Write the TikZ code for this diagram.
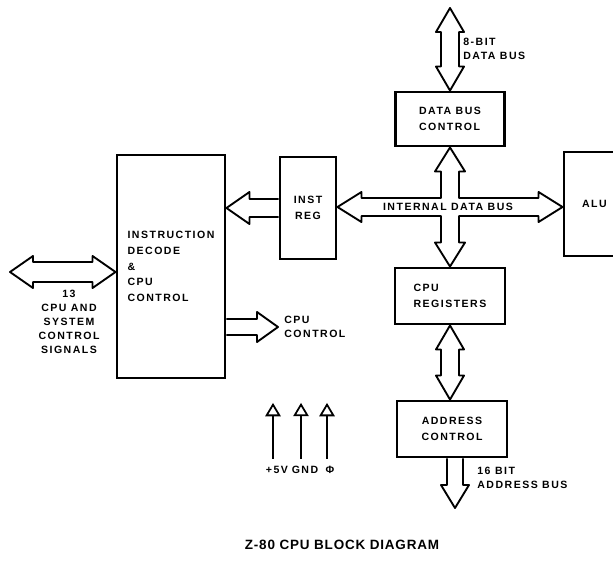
\documentclass[tikz,border=0pt]{standalone}
\usepackage{fontspec}
\newfontfamily\diagfont{Liberation Sans}[LetterSpace=14]
\newfontfamily\titlefont{Liberation Sans}[LetterSpace=6]
\usetikzlibrary{arrows.meta, positioning, calc}
\tikzstyle{block} = [rectangle, draw=black, line width=2.5pt, align=left, inner sep=0pt, font=\diagfont\bfseries\fontsize{9}{13.4}\selectfont]
\tikzstyle{bus} = [draw=black, line width=1.6pt, line join=round, fill=white]
\tikzstyle{tag} = [align=left, inner sep=1pt, font=\diagfont\bfseries\fontsize{9}{12.5}\selectfont]
\tikzstyle{power} = [line width=1.1pt, -{Triangle[open, length=0.40cm, width=0.46cm, line width=1.5pt]}]

% fat bus arrows
\newcommand{\busv}[2]{% top tip, bottom tip
  \draw[bus] (#1) -- ++(14,24) -- ++(-5,0) -- ($(#1 |- #2)+(9,-24)$) -- ++(5,0) -- (#1 |- #2)
    -- ++(-14,-24) -- ++(5,0) -- ($(#1)+(-9,24)$) -- ++(-5,0) -- cycle;}
\newcommand{\bush}[2]{% left tip, right tip
  \draw[bus] (#1) -- ++(23,-16) -- ++(0,6) -- ($(#1 -| #2)+(-23,-10)$) -- ++(0,-6) -- (#1 -| #2)
    -- ++(-23,16) -- ++(0,-6) -- ($(#1)+(23,10)$) -- ++(0,6) -- cycle;}
\newcommand{\busright}[2]{% tail, tip
  \draw[bus] ($(#1)+(0,-8)$) -- ($(#2)+(-21,-8)$) -- ++(0,-7) -- (#2) -- ++(-21,15) -- ++(0,-7) -- ($(#1)+(0,8)$);}
\newcommand{\busleft}[2]{% tail, tip
  \draw[bus] ($(#1)+(0,-9)$) -- ($(#2)+(23,-9)$) -- ++(0,-7) -- (#2) -- ++(23,16) -- ++(0,-7) -- ($(#1)+(0,9)$);}
\newcommand{\busdown}[2]{% tail, tip
  \draw[bus] ($(#1)+(-8,0)$) -- ($(#2)+(-8,-23)$) -- ++(-6,0) -- (#2) -- ++(14,-23) -- ++(-6,0) -- ($(#1)+(8,0)$);}

\begin{document}
\begin{tikzpicture}[x=0.03cm, y=-0.03cm]
    \useasboundingbox (0,0) rectangle (613,561);
    \clip (0,0) rectangle (613,561);

    % blocks
    \node (decode) [block, minimum width=3.24cm, minimum height=6.69cm] at (171,266.5) {INSTRUCTION\\DECODE\\\&\\CPU\\CONTROL};
    \node (ireg) [block, minimum width=1.68cm, minimum height=3.06cm, align=center] at (308,208) {INST\\REG};
    \node (dbc) [block, minimum width=3.27cm, minimum height=1.62cm] at (450,119) {DATA BUS\\CONTROL};
    \node (cpureg) [block, minimum width=3.3cm, minimum height=1.68cm] at (450,296) {CPU\\REGISTERS};
    \node (addr) [block, minimum width=3.3cm, minimum height=1.68cm, align=center] at (452,429) {ADDRESS\\CONTROL};
    \node (alu) [block, text width=1.2cm, inner xsep=0.54cm, minimum height=3.12cm] at (602,204) {ALU};

    % internal data bus
    \coordinate (hub) at (450,207);
    \draw[bus] (ireg.east |- hub) -- ++(24,-15) -- ++(0,6) -- ($(hub)+(-9,-9)$) -- ($(dbc.south)+(-9,24)$) -- ++(-6,0)
        -- (dbc.south) -- ++(15,24) -- ++(-6,0) -- ($(hub)+(9,-9)$) -- ($(alu.west |- hub)+(-24,-9)$) -- ++(0,-6)
        -- (alu.west |- hub) -- ++(-24,15) -- ++(0,-6) -- ($(hub)+(9,9)$) -- ($(cpureg.north)+(9,-24)$) -- ++(6,0)
        -- (cpureg.north) -- ++(-15,-24) -- ++(6,0) -- ($(hub)+(-9,9)$) -- ($(ireg.east |- hub)+(24,9)$) -- ++(0,6) -- cycle;
    \node (ibus) [tag] at (448,207) {INTERNAL DATA BUS};

    % external buses
    \coordinate (dtop) at (450,8);
    \busv{dtop}{dbc.north}
    \node (dlabel) [tag, anchor=west] at (462,49) {8-BIT\\DATA BUS};

    \busv{cpureg.south}{addr.north}

    \coordinate (abus) at (455,508);
    \busdown{addr.south -| abus}{abus}
    \node (alabel) [tag, anchor=west] at (476,478) {16 BIT\\ADDRESS BUS};

    \busleft{ireg.west}{ireg.west -| decode.east}

    \coordinate (sig) at (10,272);
    \bush{sig}{sig -| decode.west}
    \node (slabel) [tag, align=center, font=\diagfont\bfseries\fontsize{9}{12}\selectfont] at (69,322) {13\\CPU AND\\SYSTEM\\CONTROL\\SIGNALS};

    \coordinate (cpuctl) at (278,327);
    \busright{cpuctl -| decode.east}{cpuctl}
    \node (clabel) [tag, right=0.15cm of cpuctl] {CPU\\CONTROL};

    % power pins
    \node (vcc) [tag] at (277,470) {+5V};
    \node (gnd) [tag] at (305,470) {GND};
    \node (clk) [tag] at (330,470) {Φ};
    \draw[power] ($(vcc.north)+(-4,-6)$) -- ($(vcc.north)+(-4,-62)$);
    \draw[power] ($(gnd.north)+(-4,-6)$) -- ($(gnd.north)+(-4,-62)$);
    \draw[power] ($(clk.north)+(-3,-6)$) -- ($(clk.north)+(-3,-62)$);

    \node (title) [font=\titlefont\bfseries\fontsize{11.5}{13}\selectfont] at (342,545) {Z-80 CPU BLOCK DIAGRAM};
\end{tikzpicture}
\end{document}
